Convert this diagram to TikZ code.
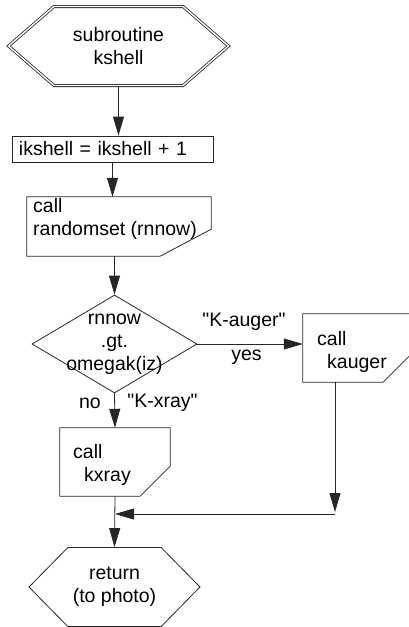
\documentclass[tikz,border=0pt]{standalone}
\usepackage{fontspec}
\setmainfont{Liberation Sans}
\definecolor{linegray}{gray}{0.15}
\usetikzlibrary{arrows.meta,positioning,shapes.geometric,shapes.symbols}

\begin{document}
\begin{tikzpicture}[x=1pt,y=-1pt,
      txt/.style={font=\fontsize{19.5}{23}\selectfont, inner sep=0pt},
      outl/.style={draw=linegray, line width=0.8pt},
      hexa/.style={outl, txt, signal, signal to=east and west,
                   align=center},
      procbox/.style={outl, txt, minimum height=26pt, text width=187pt,
                      inner xsep=7pt, align=left},
      callbox/.style={inner sep=0pt, minimum width=110pt, minimum height=68pt},
      decision/.style={outl, diamond, aspect=1.68, inner sep=0pt,
                       minimum width=165pt, minimum height=98pt},
      arr/.style={outl, -{Triangle[length=19pt,width=11pt]}}
  ]
    \useasboundingbox (0,0) rectangle (409,627);
    \clip (0,0) rectangle (409,627);

    \node[hexa, double, double distance=1.4pt, signal pointer angle=82,
          minimum width=220pt, minimum height=79pt] (start) at (118.5,46)
          {subroutine\\kshell};
    \node[procbox] (inc) at (112.5,149) {ikshell = ikshell + 1};

    \node[callbox, minimum width=184pt, minimum height=59pt] (rs) at (119,226.5) {};
    \node[txt, anchor=west, align=left] (rs-txt) at (33,218.5) {call\\randomset (rnnow)};

    \node[decision] (dec) at (114.5,344) {};
    \node[txt, align=center] (dec-txt) at (dec) {rnnow\\.gt.\\omegak(iz)};

    \node[callbox] (ka) at (358,348) {};
    \node[txt, anchor=west, align=left] (ka-txt) at (317,351.5) {call\\\hspace*{10pt}kauger};
    \node[callbox] (kx) at (115,462) {};
    \node[txt, anchor=west, align=left] (kx-txt) at (73,464.5) {call\\\hspace*{11pt}kxray};

    \node[hexa, signal pointer angle=91, minimum width=171pt,
          minimum height=79pt] (ret) at (114.5,587) {return\\(to photo)};

    % cut-corner outlines of the call boxes
    \foreach \n/\cx/\cy in {rs/51/27, kx/30/30, ka/30/30}
      \draw[outl] (\n.north west) -- (\n.north east) -- ([yshift=\cy pt]\n.south east)
            -- ([xshift=-\cx pt]\n.south east) -- (\n.south west) -- cycle;

    \node[txt] (lbl-aug) at (244,322) {\textquotedbl K-auger\textquotedbl};
    \node[txt] (lbl-yes) at (246.5,357) {yes};
    \node[txt] (lbl-no)  at (90,403) {no};
    \node[txt] (lbl-xr)  at (162.5,403) {\textquotedbl K-xray\textquotedbl};

    \draw[arr] (start.south) -- (start.south |- inc.north);
    \draw[arr] (inc.south) -- (inc.south |- rs.north);
    \draw[arr] (dec.north |- rs.south) -- (dec.north);
    \draw[arr] (dec.east) -- (dec.east -| ka.west);
    \draw[arr] (dec.south) -- (kx.north);
    \draw[arr] (kx.south) -- (ret.north);
    \coordinate (merge) at (335,514);
    \draw[arr] (merge |- ka.south) -- ([yshift=2pt]merge);
    \draw[arr] (merge) -- (merge -| kx.south);
  \end{tikzpicture}
\end{document}
